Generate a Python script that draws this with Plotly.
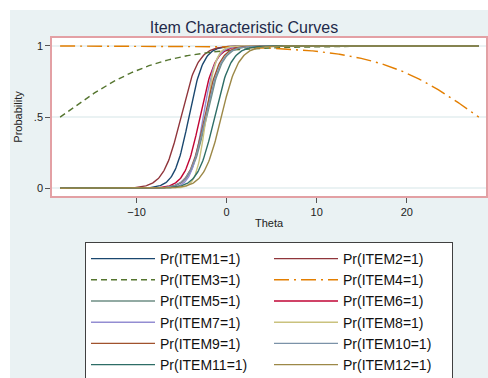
import numpy as np
import plotly.graph_objects as go

# ---- data (IRT item parameters) ----
items = [f"Pr(ITEM{i}=1)" for i in range(1, 13)]
discrimination = [1.25, 1.05, 0.185, -0.18, 1.15, 1.2, 1.5, 1.9, 1.2, 1.15, 1.1, 1.05]
difficulty = [-4.2, -5.1, -18.5, 28.0, -2.25, -2.97, -2.6, -2.3, -2.45, -2.35, -1.35, -0.6]
theta_min, theta_max = -18.5, 28.0
x_ticks = [-10, 0, 10, 20]
y_ticks = [0, 0.5, 1]
y_ticklabels = ["0", ".5", "1"]

colors = ["#1a476f", "#90353b", "#55752f", "#e37e00", "#6e8e84", "#c10534",
          "#938dd2", "#cac27e", "#a0522d", "#7b92a8", "#2d6d66", "#9c8847"]
dashes = ["solid", "solid", "6px,4px", "15px,5px,2px,5px"] + ["solid"] * 8

theta = np.linspace(theta_min, theta_max, 500)

fig = go.Figure()
for name, a, b, c, d in zip(items, discrimination, difficulty, colors, dashes):
    p = 1.0 / (1.0 + np.exp(-a * (theta - b)))
    fig.add_trace(go.Scatter(x=theta, y=p, mode="lines", name=name,
                             line=dict(color=c, width=1.4, dash=d)))

W, H = 488, 378
L, R, T, B = 52, 2, 38, 182
pw, ph = W - L - R, H - T - B

def px(xp):
    return (xp - L) / pw

def py(yp):
    return (H - B - yp) / ph

shapes = [
    # white strips around the Stata graph region
    dict(type="rect", xref="paper", yref="paper", x0=px(-5), x1=px(W + 5), y0=py(10), y1=py(-5),
         fillcolor="white", line_width=0, layer="below"),
    dict(type="rect", xref="paper", yref="paper", x0=px(-5), x1=px(10), y0=py(H + 5), y1=py(-5),
         fillcolor="white", line_width=0, layer="below"),
]

fig.update_layout(
    width=W, height=H,
    margin=dict(l=L, r=R, t=T, b=B, autoexpand=False),
    paper_bgcolor="#eaf2f3",
    plot_bgcolor="white",
    font=dict(family="Liberation Sans, Arial, sans-serif", size=11, color="#222222"),
    title=dict(text="Item Characteristic Curves", x=px(269), xanchor="center",
               y=1 - 27 / H, yanchor="middle",
               font=dict(size=16, color="#1e2a4a")),
    shapes=shapes,
    xaxis=dict(range=[-19.4, 28.8], tickvals=x_ticks, ticks="outside", ticklen=5,
               tickcolor="#555555", showgrid=False, zeroline=False,
               showline=True, linecolor="#e3a0a4", linewidth=1.5, mirror=True,
               title=dict(text="Theta", standoff=2, font=dict(size=11)),
               tickfont=dict(size=11, color="#222222")),
    yaxis=dict(range=[-0.055, 1.056], tickvals=y_ticks, ticktext=y_ticklabels,
               ticks="outside", ticklen=5, tickcolor="#555555",
               showgrid=True, gridcolor="#eaf2f3", gridwidth=1.5, zeroline=False,
               showline=True, linecolor="#e3a0a4", linewidth=1.5, mirror=True,
               title=dict(text="Probability", standoff=9, font=dict(size=11)),
               tickfont=dict(size=11, color="#222222")),
    showlegend=True,
    legend=dict(orientation="h", x=px(85), xanchor="left", y=py(242), yanchor="top",
                bgcolor="white", bordercolor="#404040", borderwidth=1,
                entrywidth=104, entrywidthmode="pixels", itemwidth=64,
                maxheight=1.0,
                font=dict(size=14, color="#111111"),
                traceorder="normal"),
)

fig.write_html("out.html", config={"displayModeBar": False},
               post_script="document.body.style.margin='0';document.body.style.padding='0';")
